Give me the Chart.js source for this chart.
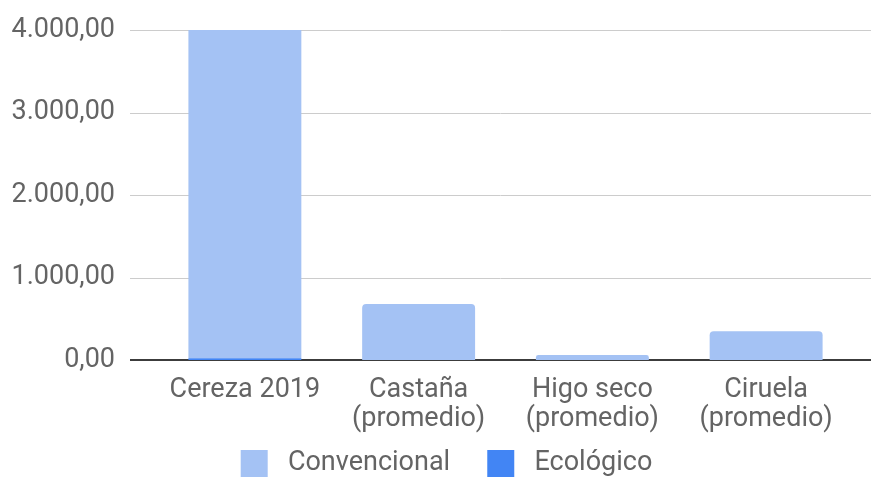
<!DOCTYPE html>
<html>
<head>
<meta charset="utf-8">
<script src="https://cdn.jsdelivr.net/npm/chart.js@4"></script>
<style>
  html, body { margin: 0; padding: 0; background: #fff; overflow: hidden; }
  canvas { display: block; }
</style>
</head>
<body>
<canvas id="grafico" width="871" height="487"></canvas>
<script>
// datos
const categorias = ['Cereza 2019', ['Castaña', '(promedio)'], ['Higo seco', '(promedio)'], ['Ciruela', '(promedio)']];
const convencional = [4800, 680, 60, 350];
const ecologico = [22, 0, 0, 0];
const ticksY = [0, 1000, 2000, 3000, 4000];

const gris = '#646464';
const fuente = { family: 'Roboto', size: 27, lineHeight: 1.1 };

// lineas de la cuadricula mas anchas que el area de barras
const lineasFondo = {
  id: 'lineasFondo',
  afterLayout(chart) {
    // leyenda un poco a la derecha, como en el original
    chart.legend.left += 28;
  },
  beforeDatasetsDraw(chart) {
    const ctx = chart.ctx;
    const y = chart.scales.y;
    ctx.save();
    ticksY.forEach(function (v) {
      const py = Math.round(y.getPixelForValue(v));
      ctx.beginPath();
      if (v === 0) {
        ctx.strokeStyle = '#3c3c3c';
        ctx.lineWidth = 2;
        ctx.moveTo(130, py);
        ctx.lineTo(871, py);
      } else {
        ctx.strokeStyle = '#cccccc';
        ctx.lineWidth = 1;
        ctx.moveTo(130, py + 0.5);
        ctx.lineTo(871, py + 0.5);
      }
      ctx.stroke();
    });
    ctx.restore();
  }
};

const grafico = new Chart(document.getElementById('grafico'), {
  type: 'bar',
  data: {
    labels: categorias,
    datasets: [
      {
        label: 'Ecológico',
        data: ecologico,
        backgroundColor: '#4285f4',
        barPercentage: 0.65,
        categoryPercentage: 1
      },
      {
        label: 'Convencional',
        data: convencional,
        backgroundColor: '#a4c2f4',
        borderRadius: { topLeft: 4, topRight: 4 },
        borderSkipped: 'bottom',
        barPercentage: 0.65,
        categoryPercentage: 1
      }
    ]
  },
  plugins: [lineasFondo],
  options: {
    responsive: false,
    animation: false,
    layout: { padding: { top: 30, right: 18, left: 12, bottom: 0 } },
    scales: {
      x: {
        stacked: true,
        grid: { display: false, drawTicks: false },
        border: { display: false },
        ticks: {
          color: gris,
          padding: 15,
          maxRotation: 0,
          font: fuente
        },
        afterFit(s) { s.height = 73; }
      },
      y: {
        stacked: true,
        min: 0,
        max: 4000,
        grid: { display: false, drawTicks: false },
        border: { display: false },
        ticks: {
          stepSize: 1000,
          padding: 43,
          color: gris,
          font: fuente,
          callback: function (v) {
            return v.toLocaleString('de-DE', { minimumFractionDigits: 2, maximumFractionDigits: 2 });
          }
        },
        afterFit(s) {
          s.width = 146;
          s.paddingTop = 0;
          s.paddingBottom = 0;
        }
      }
    },
    plugins: {
      legend: {
        position: 'bottom',
        reverse: true,
        labels: {
          boxWidth: 27,
          boxHeight: 27,
          padding: 17,
          color: gris,
          font: fuente,
          generateLabels(chart) {
            const items = Chart.defaults.plugins.legend.labels.generateLabels(chart);
            items.forEach(function (it) {
              it.text = ' ' + it.text + (it.datasetIndex === 1 ? '   ' : '');
            });
            return items;
          }
        }
      },
      tooltip: { enabled: false }
    }
  }
});
</script>
</body>
</html>
